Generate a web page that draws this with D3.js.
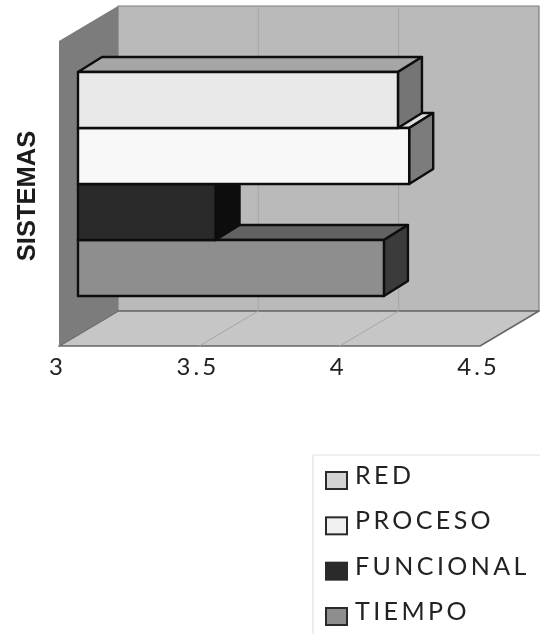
<!DOCTYPE html>
<html lang="en">
<head>
    <meta charset="UTF-8">
    <title>SISTEMAS</title>
    <script src="https://d3js.org/d3.v7.min.js"></script>
    <style>
        html, body { margin: 0; padding: 0; background: #fff; }
        svg { display: block; }
    </style>
</head>
<body>
    <div class="chart"></div>
    <script>
        // values
        const categories = ['RED', 'PROCESO', 'FUNCIONAL', 'TIEMPO']
        const values = [4.14, 4.18, 3.49, 4.09]
        const tickValues = [3, 3.5, 4, 4.5]
        const axisTitle = 'SISTEMAS'

        const frontColors = ['#e9e9e9', '#f8f8f8', '#2b2b2b', '#8e8e8e']
        const topColors = ['#a6a6a6', '#dedede', '#161616', '#626262']
        const sideColors = ['#747474', '#7c7c7c', '#0d0d0d', '#3a3a3a']
        const legendColors = ['#d4d4d4', '#f0f0f0', '#2b2b2b', '#8e8e8e']

        const width = 540, height = 634

        // box of the 3d plot
        const floorY = 346, wallTop = 41
        const depthX = 59, depthY = 35
        const barDepthX = 24, barDepthY = 15
        const barInsetX = 19

        const xScale = d3.scaleLinear().domain([3, 4.5]).range([59, 480])
        const yScale = d3.scaleBand().domain(categories).range([72, 296])

        const svg = d3.select('.chart').append('svg')
            .attr('width', width)
            .attr('height', height)

        // soft edges like the scan
        svg.append('defs').append('filter')
            .attr('id', 'scan')
            .append('feGaussianBlur')
            .attr('stdDeviation', 0.55)

        const root = svg.append('g').attr('filter', 'url(#scan)')

        const poly = (g, pts, fill, stroke, sw) => g.append('polygon')
            .attr('points', pts.map(p => p.join(',')).join(' '))
            .attr('fill', fill)
            .attr('stroke', stroke || 'none')
            .attr('stroke-width', sw || 0)
            .attr('stroke-linejoin', 'round')

        const x0 = xScale(3), x1 = xScale(4.5)

        // back wall
        poly(root, [[x0 + depthX, wallTop - depthY], [x1 + depthX, wallTop - depthY],
            [x1 + depthX, floorY - depthY], [x0 + depthX, floorY - depthY]], '#bababa', '#7d7d7d', 1.2)
        // floor
        poly(root, [[x0, floorY], [x1, floorY], [x1 + depthX, floorY - depthY], [x0 + depthX, floorY - depthY]],
            '#c6c6c6', '#666', 1.5)
        // left wall
        poly(root, [[x0, wallTop], [x0 + depthX, wallTop - depthY], [x0 + depthX, floorY - depthY], [x0, floorY]],
            '#7c7c7c')

        // grid lines on the wall and floor
        const grid = root.append('g').attr('stroke', '#a6a6a6').attr('stroke-width', 1).attr('fill', 'none')
        tickValues.slice(1, 3).forEach(t => {
            const x = xScale(t)
            grid.append('path')
                .attr('d', `M${x},${floorY}L${x + depthX},${floorY - depthY}V${wallTop - depthY}`)
        })

        // bars, lower ones first so the upper ones cover their tops
        const barOrigin = x0 + barInsetX - xScale(3)
        d3.range(categories.length - 1, -1, -1).forEach(i => {
            const g = root.append('g')
            const left = xScale(3) + barOrigin
            const right = xScale(values[i]) + barOrigin
            const top = yScale(categories[i])
            const bottom = top + yScale.bandwidth()
            const line = '#101010'
            poly(g, [[left, top], [right, top], [right + barDepthX, top - barDepthY], [left + barDepthX, top - barDepthY]],
                topColors[i], line, 2.4)
            poly(g, [[right, top], [right + barDepthX, top - barDepthY], [right + barDepthX, bottom - barDepthY], [right, bottom]],
                sideColors[i], line, 2.4)
            poly(g, [[left, top], [right, top], [right, bottom], [left, bottom]],
                frontColors[i], line, 2.4)
        })

        // x axis
        const xAxis = d3.axisBottom(xScale)
            .tickValues(tickValues)
            .tickSize(0)
            .tickPadding(12)
            .tickFormat(d => d)

        const axisG = root.append('g')
            .attr('transform', `translate(-2, ${floorY})`)
            .call(xAxis)
        axisG.select('.domain').remove()
        axisG.selectAll('text')
            .attr('font-family', 'Lato, "Open Sans", sans-serif')
            .attr('font-size', 24)
            .attr('letter-spacing', 3)
            .attr('fill', '#222')

        // axis title
        root.append('text')
            .attr('transform', 'translate(35, 196) rotate(-90)')
            .attr('text-anchor', 'middle')
            .attr('font-family', '"Liberation Sans", Arial, sans-serif')
            .attr('font-weight', 'bold')
            .attr('font-size', 25.5)
            .attr('fill', '#1a1a1a')
            .text(axisTitle)

        // legend
        const legend = root.append('g')
        legend.append('path')
            .attr('d', 'M313,634V455H540')
            .attr('fill', 'none')
            .attr('stroke', '#e2e2e2')
            .attr('stroke-width', 1.2)

        const legendY = d3.scalePoint().domain(categories).range([484, 620])
        categories.forEach((c, i) => {
            const y = legendY(c)
            legend.append('rect')
                .attr('x', 326)
                .attr('y', y - 12)
                .attr('width', 21)
                .attr('height', 17)
                .attr('fill', legendColors[i])
                .attr('stroke', '#2a2a2a')
                .attr('stroke-width', 2)
            legend.append('text')
                .attr('x', 355)
                .attr('y', y)
                .attr('font-family', 'Lato, "Open Sans", sans-serif')
                .attr('font-size', 25)
                .attr('letter-spacing', 3.4)
                .attr('fill', '#222')
                .text(c)
        })
    </script>
</body>
</html>
